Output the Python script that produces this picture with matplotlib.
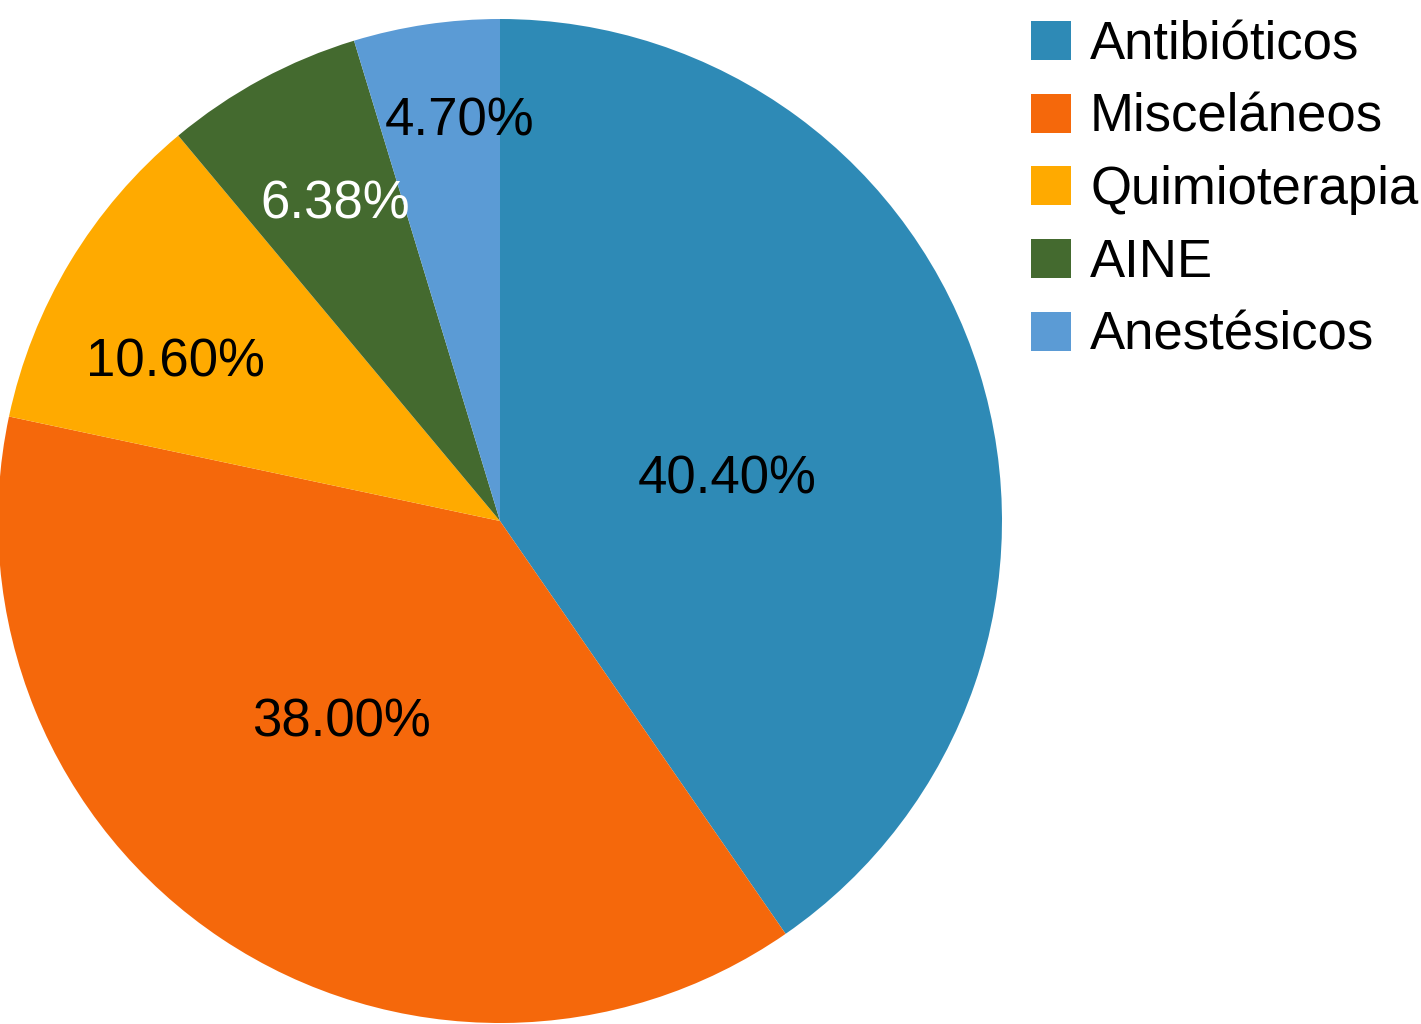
import numpy as np
import matplotlib.pyplot as plt

plt.rcParams['font.family'] = ['Liberation Sans', 'DejaVu Sans']

# Data
categories = ["Antibióticos", "Misceláneos", "Quimioterapia", "AINE", "Anestésicos"]
values = [40.40, 38.00, 10.60, 6.38, 4.70]
labels = ["40.40%", "38.00%", "10.60%", "6.38%", "4.70%"]
colors = ["#2E8AB6", "#F5680B", "#FFAA00", "#446A2F", "#5B9BD5"]
label_colors = ["black", "black", "black", "white", "black"]

# Label placement (radius fraction and angle offset in degrees)
label_r = [0.46, 0.51, 0.72, 0.71, 0.80]
label_dang = [-7.0, -4.5, 5.0, -0.9, -2.7]

fig = plt.figure(figsize=(14.21, 10.24), dpi=100)
ax = fig.add_axes([-2 / 1421, 1 / 1024, 1004 / 1421, 1004 / 1024])

wedges, _ = ax.pie(values, colors=colors, startangle=90, counterclock=False,
                   radius=1.0, wedgeprops=dict(linewidth=0))

for w, lab, col, r, da in zip(wedges, labels, label_colors, label_r, label_dang):
    ang = np.deg2rad((w.theta1 + w.theta2) / 2 + da)
    ax.text(r * np.cos(ang), r * np.sin(ang), lab, ha="center", va="center",
            fontsize=38, color=col)

ax.set_xlim(-1, 1)
ax.set_ylim(-1, 1)
ax.set_aspect("equal")
ax.axis("off")

fig.legend(wedges, categories, loc="upper left",
           bbox_to_anchor=(1031 / 1421, 1 - 20 / 1024), frameon=False,
           fontsize=38, handlelength=0.76, handleheight=0.76,
           handletextpad=0.36, labelspacing=0.43, borderpad=0, borderaxespad=0)

fig.savefig("out.png", dpi=100)
